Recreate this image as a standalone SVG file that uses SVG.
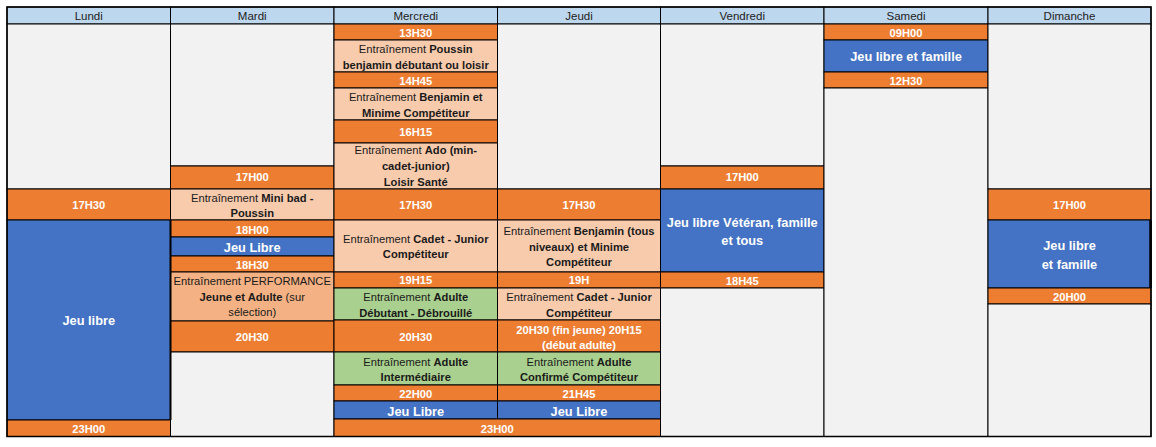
<svg xmlns="http://www.w3.org/2000/svg" width="1156" height="447" viewBox="0 0 1156 447">
<style>
.g{fill:#F2F2F2}
.o{fill:#ED7D31}
.p{fill:#F8CBAD}
.p2{fill:#F4B183}
.gr{fill:#A9D08E}
.b{fill:#4472C4}
.h{fill:#BDD7EE}
rect{stroke:#000;stroke-width:1}
rect.bg{stroke:none;fill:#fff}
text{font-family:"Liberation Sans",Arial,sans-serif;text-anchor:middle}
.t{font-size:11.2px;font-weight:bold;fill:#fff}
.d{font-size:11.2px;fill:#1a1a1a}
.bl{font-size:12.8px;font-weight:bold;fill:#fff}
.hd{font-size:11.5px;fill:#222}
.k{font-weight:bold}
</style>
<rect class="bg" x="0" y="0" width="1156" height="447"/>
<g id="header">
<rect class="h" x="7" y="7" width="163.5" height="17"/>
<rect class="h" x="170.5" y="7" width="163.5" height="17"/>
<rect class="h" x="334" y="7" width="163.5" height="17"/>
<rect class="h" x="497.5" y="7" width="163" height="17"/>
<rect class="h" x="660.5" y="7" width="163.5" height="17"/>
<rect class="h" x="824" y="7" width="164" height="17"/>
<rect class="h" x="988" y="7" width="163" height="17"/>
<text class="hd" x="88.75" y="19.5">Lundi</text>
<text class="hd" x="252.25" y="19.5">Mardi</text>
<text class="hd" x="415.75" y="19.5">Mercredi</text>
<text class="hd" x="579" y="19.5">Jeudi</text>
<text class="hd" x="742.25" y="19.5">Vendredi</text>
<text class="hd" x="906" y="19.5">Samedi</text>
<text class="hd" x="1069.5" y="19.5">Dimanche</text>
</g>
<g id="lundi">
<rect class="g" x="7" y="24" width="163.5" height="165"/>
<g id="lun-1730"><rect class="o" x="7" y="189" width="163.5" height="31"/><text class="t" x="88.75" y="208.5">17H30</text></g>
<g id="lun-jeu"><rect class="b" x="7" y="220" width="163.5" height="200"/><text class="bl" x="88.75" y="324.6">Jeu libre</text></g>
<g id="lun-2300"><rect class="o" x="7" y="420" width="163.5" height="16.5"/><text class="t" x="88.75" y="432.7">23H00</text></g>
</g>
<g id="mardi">
<rect class="g" x="170.5" y="24" width="163.5" height="142"/>
<g id="mar-1700"><rect class="o" x="170.5" y="166" width="163.5" height="23"/><text class="t" x="252.25" y="180.7">17H00</text></g>
<g id="mar-minibad"><rect class="p" x="170.5" y="189" width="163.5" height="31"/><text class="d" x="252.25" y="201.5">Entraînement <tspan class="k">Mini bad -</tspan></text><text class="d k" x="252.25" y="216.8">Poussin</text></g>
<g id="mar-1800"><rect class="o" x="170.5" y="220" width="163.5" height="17"/><text class="t" x="252.25" y="234">18H00</text></g>
<g id="mar-jeu"><rect class="b" x="170.5" y="237" width="163.5" height="19"/><text class="bl" x="252.25" y="252.3">Jeu Libre</text></g>
<g id="mar-1830"><rect class="o" x="170.5" y="256" width="163.5" height="16"/><text class="t" x="252.25" y="268.5">18H30</text></g>
<g id="mar-perf"><rect class="p2" x="170.5" y="272" width="163.5" height="49"/><text class="d" x="252.25" y="284.7">Entraînement PERFORMANCE</text><text class="d" x="252.25" y="300.5"><tspan class="k">Jeune et Adulte</tspan> (sur</text><text class="d" x="252.25" y="316.3">sélection)</text></g>
<g id="mar-2030"><rect class="o" x="170.5" y="321" width="163.5" height="31"/><text class="t" x="252.25" y="340.7">20H30</text></g>
<rect class="g" x="170.5" y="352" width="163.5" height="84.5"/>
</g>
<g id="mercredi">
<g id="mer-1330"><rect class="o" x="334" y="24" width="163.5" height="16"/><text class="t" x="415.75" y="36.5">13H30</text></g>
<g id="mer-poussin"><rect class="p" x="334" y="40" width="163.5" height="32"/><text class="d" x="415.75" y="53.2">Entraînement <tspan class="k">Poussin</tspan></text><text class="d k" x="415.75" y="68.6">benjamin débutant ou loisir</text></g>
<g id="mer-1445"><rect class="o" x="334" y="72" width="163.5" height="16"/><text class="t" x="415.75" y="84.5">14H45</text></g>
<g id="mer-benjamin"><rect class="p" x="334" y="88" width="163.5" height="32"/><text class="d" x="415.75" y="101.3">Entraînement <tspan class="k">Benjamin et</tspan></text><text class="d k" x="415.75" y="116.7">Minime Compétiteur</text></g>
<g id="mer-1615"><rect class="o" x="334" y="120" width="163.5" height="23"/><text class="t" x="415.75" y="135.7">16H15</text></g>
<g id="mer-ado"><rect class="p" x="334" y="143" width="163.5" height="46"/><text class="d" x="415.75" y="154">Entraînement <tspan class="k">Ado (min-</tspan></text><text class="d k" x="415.75" y="169.7">cadet-junior)</text><text class="d k" x="415.75" y="185.5">Loisir Santé</text></g>
<g id="mer-1730"><rect class="o" x="334" y="189" width="163.5" height="31"/><text class="t" x="415.75" y="209">17H30</text></g>
<g id="mer-cadet"><rect class="p" x="334" y="220" width="163.5" height="52"/><text class="d" x="415.75" y="243.3">Entraînement <tspan class="k">Cadet - Junior</tspan></text><text class="d k" x="415.75" y="258">Compétiteur</text></g>
<g id="mer-1915"><rect class="o" x="334" y="272" width="163.5" height="16"/><text class="t" x="415.75" y="284.3">19H15</text></g>
<g id="mer-debutant"><rect class="gr" x="334" y="288" width="163.5" height="32"/><text class="d" x="415.75" y="301.3">Entraînement <tspan class="k">Adulte</tspan></text><text class="d k" x="415.75" y="316.7">Débutant - Débrouillé</text></g>
<g id="mer-2030"><rect class="o" x="334" y="320" width="163.5" height="32"/><text class="t" x="415.75" y="341.3">20H30</text></g>
<g id="mer-inter"><rect class="gr" x="334" y="352" width="163.5" height="33"/><text class="d" x="415.75" y="366.3">Entraînement <tspan class="k">Adulte</tspan></text><text class="d k" x="415.75" y="381.3">Intermédiaire</text></g>
<g id="mer-2200"><rect class="o" x="334" y="385" width="163.5" height="16"/><text class="t" x="415.75" y="397.5">22H00</text></g>
<g id="mer-jeu"><rect class="b" x="334" y="401" width="163.5" height="18"/><text class="bl" x="415.75" y="415.6">Jeu Libre</text></g>
</g>
<g id="jeudi">
<rect class="g" x="497.5" y="24" width="163" height="165"/>
<g id="jeu-1730"><rect class="o" x="497.5" y="189" width="163" height="31"/><text class="t" x="579" y="209">17H30</text></g>
<g id="jeu-benjamin"><rect class="p" x="497.5" y="220" width="163" height="52"/><text class="d" x="579" y="235">Entraînement <tspan class="k">Benjamin (tous</tspan></text><text class="d k" x="579" y="251">niveaux) et Minime</text><text class="d k" x="579" y="266">Compétiteur</text></g>
<g id="jeu-19h"><rect class="o" x="497.5" y="272" width="163" height="16"/><text class="t" x="579" y="284.3">19H</text></g>
<g id="jeu-cadet"><rect class="p" x="497.5" y="288" width="163" height="32"/><text class="d" x="579" y="301.3">Entraînement <tspan class="k">Cadet - Junior</tspan></text><text class="d k" x="579" y="316.7">Compétiteur</text></g>
<g id="jeu-2030"><rect class="o" x="497.5" y="320" width="163" height="32"/><text class="t" x="579" y="334">20H30 (fin jeune) 20H15</text><text class="t" x="579" y="349">(début adulte)</text></g>
<g id="jeu-confirme"><rect class="gr" x="497.5" y="352" width="163" height="33"/><text class="d" x="579" y="366.3">Entraînement <tspan class="k">Adulte</tspan></text><text class="d k" x="579" y="381.3">Confirmé Compétiteur</text></g>
<g id="jeu-2145"><rect class="o" x="497.5" y="385" width="163" height="16"/><text class="t" x="579" y="397.5">21H45</text></g>
<g id="jeu-jeu"><rect class="b" x="497.5" y="401" width="163" height="18"/><text class="bl" x="579" y="415.6">Jeu Libre</text></g>
</g>
<g id="mer-jeu-2300"><rect class="o" x="334" y="419" width="326.5" height="17.5"/><text class="t" x="497.25" y="432.5">23H00</text></g>
<g id="vendredi">
<rect class="g" x="660.5" y="24" width="163.5" height="142"/>
<g id="ven-1700"><rect class="o" x="660.5" y="166" width="163.5" height="23"/><text class="t" x="742.25" y="180.7">17H00</text></g>
<g id="ven-jeu"><rect class="b" x="660.5" y="189" width="163.5" height="83"/><text class="bl" x="742.25" y="227">Jeu libre Vétéran, famille</text><text class="bl" x="742.25" y="245.3">et tous</text></g>
<g id="ven-1845"><rect class="o" x="660.5" y="272" width="163.5" height="16"/><text class="t" x="742.25" y="284.5">18H45</text></g>
<rect class="g" x="660.5" y="288" width="163.5" height="148.5"/>
</g>
<g id="samedi">
<g id="sam-0900"><rect class="o" x="824" y="24" width="164" height="16"/><text class="t" x="906" y="36.5">09H00</text></g>
<g id="sam-jeu"><rect class="b" x="824" y="40" width="164" height="32"/><text class="bl" x="906" y="60.6">Jeu libre et famille</text></g>
<g id="sam-1230"><rect class="o" x="824" y="72" width="164" height="16"/><text class="t" x="906" y="84.5">12H30</text></g>
<rect class="g" x="824" y="88" width="164" height="348.5"/>
</g>
<g id="dimanche">
<rect class="g" x="988" y="24" width="163" height="165"/>
<g id="dim-1700"><rect class="o" x="988" y="189" width="163" height="31"/><text class="t" x="1069.5" y="208.7">17H00</text></g>
<g id="dim-jeu"><rect class="b" x="988" y="220" width="163" height="68"/><text class="bl" x="1069.5" y="250.3">Jeu libre</text><text class="bl" x="1069.5" y="269">et famille</text></g>
<g id="dim-2000"><rect class="o" x="988" y="288" width="163" height="16"/><text class="t" x="1069.5" y="300.5">20H00</text></g>
<rect class="g" x="988" y="304" width="163" height="132.5"/>
</g>
<g id="frame" fill="none" stroke="#000">
<line x1="170.5" y1="220" x2="170.5" y2="420" stroke-width="2"/>
<line x1="1150.5" y1="220" x2="1150.5" y2="288" stroke-width="2.5"/>
<rect x="7" y="7" width="1144" height="429.5" fill="none" stroke-width="1.5" style="fill:none;stroke-width:1.5"/>
</g>
</svg>
